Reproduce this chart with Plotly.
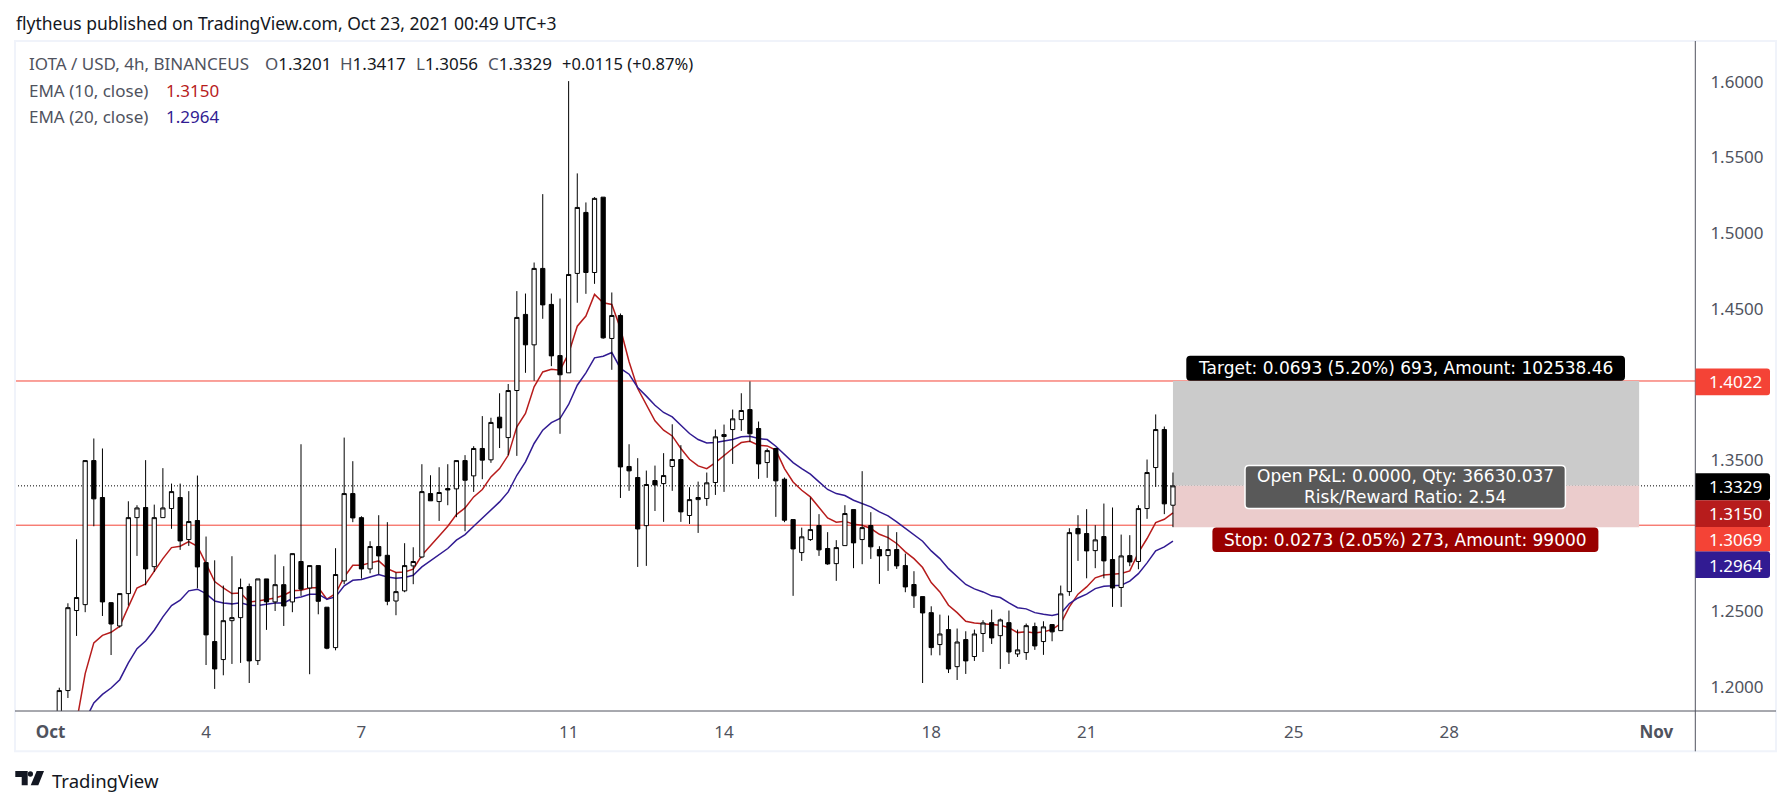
import datetime

import plotly.graph_objects as go

FONT = "Noto Sans"
TOOL_FONT = "DejaVu Sans"
AXIS_COLOR = "#50535e"
TEXT_COLOR = "#131722"
LINE_RED = "#f44336"
EMA10_COLOR = "#b71c1c"
EMA20_COLOR = "#311b92"

START = datetime.datetime(2021, 10, 1)
BAR = datetime.timedelta(hours=4)
FIRST_BAR = 1

opens = [
    1.1750, 1.1976, 1.2505, 1.2544, 1.3496, 1.3252, 1.2557, 1.2403, 1.2617, 1.3119,
    1.3186, 1.2795, 1.3119, 1.3179, 1.3252, 1.2974, 1.3100, 1.2822, 1.2300, 1.2181,
    1.2438, 1.2458, 1.2663, 1.2174, 1.2714, 1.2562, 1.2676, 1.2562, 1.2829, 1.2654,
    1.2802, 1.2527, 1.2260, 1.2701, 1.3278, 1.3119, 1.2780, 1.2928, 1.2870, 1.2568,
    1.2635, 1.2800, 1.2859, 1.3278, 1.3225, 1.3311, 1.3309, 1.3496, 1.3395, 1.3576,
    1.3501, 1.3783, 1.3648, 1.3959, 1.4462, 1.4261, 1.4766, 1.4528, 1.4190, 1.4076,
    1.4733, 1.5136, 1.4739, 1.5237, 1.4303, 1.4455, 1.3457, 1.3384, 1.3066, 1.3364,
    1.3344, 1.3457, 1.3503, 1.3133, 1.3238, 1.3245, 1.3351, 1.3655, 1.3701, 1.3767,
    1.3833, 1.3708, 1.3483, 1.3576, 1.3373, 1.3106, 1.2888, 1.2974, 1.3067, 1.2915,
    1.2815, 1.2934, 1.3172, 1.2974, 1.3067, 1.2908, 1.2868, 1.2908, 1.2802, 1.2677,
    1.2597, 1.2491, 1.2280, 1.2379, 1.2134, 1.2313, 1.2201, 1.2353, 1.2425, 1.2339,
    1.2425, 1.2218, 1.2227, 1.2399, 1.2300, 1.2412, 1.2372, 1.2630, 1.3047, 1.3014,
    1.2901, 1.2994, 1.2842, 1.2657, 1.2868, 1.2829, 1.3179, 1.3450, 1.3701, 1.3201,
]
highs = [
    1.1995, 1.2553, 1.2976, 1.3497, 1.3642, 1.3576, 1.2560, 1.2617, 1.3227, 1.3201,
    1.3499, 1.3205, 1.3446, 1.3344, 1.3344, 1.3294, 1.3397, 1.2994, 1.2837, 1.2670,
    1.2864, 1.2716, 1.2683, 1.2714, 1.2714, 1.2875, 1.2798, 1.2881, 1.3604, 1.2802,
    1.2802, 1.2527, 1.2917, 1.3648, 1.3492, 1.3128, 1.2963, 1.3135, 1.3089, 1.2756,
    1.2950, 1.2923, 1.3472, 1.3399, 1.3452, 1.3472, 1.3496, 1.3532, 1.3591, 1.3790,
    1.3779, 1.3941, 1.4002, 1.4616, 1.4600, 1.4805, 1.5257, 1.4600, 1.4567, 1.6004,
    1.5394, 1.5202, 1.5237, 1.5237, 1.4607, 1.4468, 1.3604, 1.3512, 1.3430, 1.3463,
    1.3545, 1.3736, 1.3598, 1.3320, 1.3357, 1.3417, 1.3701, 1.3734, 1.3833, 1.3941,
    1.4019, 1.3754, 1.3576, 1.3580, 1.3384, 1.3106, 1.3053, 1.3252, 1.3142, 1.3023,
    1.2970, 1.3201, 1.3172, 1.3426, 1.3155, 1.2930, 1.3067, 1.3023, 1.2881, 1.2765,
    1.2597, 1.2533, 1.2478, 1.2472, 1.2386, 1.2368, 1.2379, 1.2441, 1.2511, 1.2452,
    1.2505, 1.2379, 1.2419, 1.2425, 1.2434, 1.2416, 1.2670, 1.3049, 1.3135, 1.3175,
    1.3069, 1.3212, 1.3186, 1.3007, 1.3003, 1.3201, 1.3503, 1.3801, 1.3721, 1.3417,
]
lows = [
    1.1720, 1.1927, 1.2337, 1.2494, 1.3062, 1.2469, 1.2211, 1.2392, 1.2538, 1.2866,
    1.2672, 1.2760, 1.3119, 1.3045, 1.2906, 1.2932, 1.2652, 1.2145, 1.1987, 1.2077,
    1.2152, 1.2159, 1.2026, 1.2145, 1.2377, 1.2502, 1.2403, 1.2494, 1.2602, 1.2084,
    1.2480, 1.2249, 1.2242, 1.2679, 1.3089, 1.2716, 1.2751, 1.2745, 1.2540, 1.2474,
    1.2626, 1.2679, 1.2851, 1.3230, 1.3097, 1.3201, 1.3122, 1.3029, 1.3289, 1.3373,
    1.3481, 1.3579, 1.3532, 1.3527, 1.4076, 1.4023, 1.4433, 1.4120, 1.3673, 1.4076,
    1.4539, 1.4598, 1.4664, 1.4301, 1.4096, 1.3249, 1.3296, 1.2793, 1.2800, 1.3163,
    1.3091, 1.3296, 1.3091, 1.3077, 1.3018, 1.3197, 1.3269, 1.3289, 1.3474, 1.3692,
    1.3620, 1.3375, 1.3382, 1.3124, 1.3089, 1.2602, 1.2833, 1.2965, 1.2866, 1.2807,
    1.2701, 1.2934, 1.2785, 1.2811, 1.2846, 1.2681, 1.2767, 1.2780, 1.2626, 1.2522,
    1.2026, 1.2209, 1.2209, 1.2092, 1.2046, 1.2086, 1.2172, 1.2231, 1.2284, 1.2119,
    1.2152, 1.2198, 1.2179, 1.2245, 1.2212, 1.2302, 1.2372, 1.2602, 1.2833, 1.2718,
    1.2785, 1.2718, 1.2529, 1.2529, 1.2798, 1.2778, 1.3111, 1.3322, 1.3142, 1.3056,
]
closes = [
    1.1976, 1.2524, 1.2591, 1.3496, 1.3243, 1.2562, 1.2416, 1.2617, 1.3119, 1.3183,
    1.2780, 1.3119, 1.3183, 1.3291, 1.2965, 1.3093, 1.2793, 1.2344, 1.2119, 1.2438,
    1.2458, 1.2657, 1.2172, 1.2714, 1.2562, 1.2676, 1.2535, 1.2881, 1.2646, 1.2802,
    1.2566, 1.2256, 1.2743, 1.3278, 1.3117, 1.2780, 1.2928, 1.2866, 1.2566, 1.2630,
    1.2802, 1.2829, 1.3291, 1.3230, 1.3285, 1.3302, 1.3496, 1.3366, 1.3576, 1.3499,
    1.3748, 1.3712, 1.3959, 1.4442, 1.4261, 1.4766, 1.4525, 1.4188, 1.4063, 1.4726,
    1.5169, 1.4739, 1.5229, 1.4307, 1.4455, 1.3454, 1.3428, 1.3044, 1.3338, 1.3335,
    1.3397, 1.3503, 1.3157, 1.3238, 1.3252, 1.3349, 1.3653, 1.3668, 1.3772, 1.3827,
    1.3673, 1.3474, 1.3562, 1.3362, 1.3102, 1.2912, 1.2992, 1.3040, 1.2906, 1.2813,
    1.2921, 1.3146, 1.2952, 1.3053, 1.2926, 1.2866, 1.2908, 1.2800, 1.2661, 1.2602,
    1.2489, 1.2260, 1.2350, 1.2119, 1.2297, 1.2172, 1.2350, 1.2423, 1.2324, 1.2443,
    1.2231, 1.2245, 1.2405, 1.2271, 1.2397, 1.2364, 1.2615, 1.3020, 1.3012, 1.2899,
    1.2972, 1.2833, 1.2654, 1.2866, 1.2826, 1.3179, 1.3417, 1.3701, 1.3210, 1.3329,
]
ema10 = [
    None, None, 1.1768, 1.2088, 1.2291, 1.2341, 1.2361, 1.2401, 1.2529, 1.2654,
    1.2681, 1.2767, 1.2848, 1.2921, 1.2930, 1.2961, 1.2930, 1.2815, 1.2696, 1.2654,
    1.2617, 1.2621, 1.2562, 1.2568, 1.2577, 1.2588, 1.2606, 1.2635, 1.2639, 1.2654,
    1.2657, 1.2580, 1.2617, 1.2727, 1.2804, 1.2804, 1.2820, 1.2833, 1.2782, 1.2756,
    1.2760, 1.2778, 1.2870, 1.2937, 1.2998, 1.3062, 1.3139, 1.3183, 1.3256, 1.3305,
    1.3388, 1.3443, 1.3531, 1.3719, 1.3807, 1.3983, 1.4082, 1.4100, 1.4093, 1.4204,
    1.4384, 1.4451, 1.4594, 1.4539, 1.4528, 1.4369, 1.4149, 1.3972, 1.3862, 1.3759,
    1.3697, 1.3659, 1.3576, 1.3505, 1.3461, 1.3443, 1.3483, 1.3531, 1.3576, 1.3615,
    1.3624, 1.3598, 1.3593, 1.3565, 1.3443, 1.3355, 1.3300, 1.3256, 1.3190, 1.3117,
    1.3089, 1.3095, 1.3076, 1.3069, 1.3047, 1.3009, 1.2987, 1.2948, 1.2893, 1.2848,
    1.2789, 1.2690, 1.2628, 1.2540, 1.2491, 1.2434, 1.2423, 1.2419, 1.2412, 1.2408,
    1.2392, 1.2359, 1.2364, 1.2357, 1.2364, 1.2379, 1.2419, 1.2529, 1.2613, 1.2661,
    1.2721, 1.2740, 1.2745, 1.2750, 1.2767, 1.2888, 1.2981, 1.3086, 1.3108, 1.3150,
]
ema20 = [
    None, None, None, 1.1780, 1.1894, 1.1951, 1.1993, 1.2048, 1.2159, 1.2253,
    1.2304, 1.2375, 1.2463, 1.2538, 1.2573, 1.2635, 1.2646, 1.2617, 1.2568, 1.2555,
    1.2549, 1.2557, 1.2540, 1.2538, 1.2547, 1.2555, 1.2555, 1.2584, 1.2595, 1.2613,
    1.2613, 1.2580, 1.2595, 1.2668, 1.2705, 1.2710, 1.2727, 1.2743, 1.2727, 1.2718,
    1.2723, 1.2738, 1.2793, 1.2833, 1.2870, 1.2915, 1.2970, 1.3007, 1.3062, 1.3117,
    1.3172, 1.3223, 1.3289, 1.3399, 1.3487, 1.3609, 1.3697, 1.3747, 1.3774, 1.3867,
    1.3994, 1.4076, 1.4175, 1.4186, 1.4210, 1.4105, 1.4067, 1.3979, 1.3922, 1.3862,
    1.3814, 1.3785, 1.3730, 1.3675, 1.3635, 1.3613, 1.3615, 1.3624, 1.3635, 1.3653,
    1.3657, 1.3642, 1.3635, 1.3591, 1.3536, 1.3483, 1.3443, 1.3406, 1.3355, 1.3305,
    1.3278, 1.3265, 1.3234, 1.3212, 1.3190, 1.3157, 1.3131, 1.3091, 1.3047, 1.3003,
    1.2963, 1.2899, 1.2848, 1.2782, 1.2732, 1.2677, 1.2648, 1.2628, 1.2602, 1.2591,
    1.2555, 1.2524, 1.2516, 1.2491, 1.2480, 1.2472, 1.2485, 1.2551, 1.2588, 1.2613,
    1.2650, 1.2666, 1.2668, 1.2672, 1.2699, 1.2749, 1.2820, 1.2899, 1.2926, 1.2964,
]

target_price = 1.4022
entry_price = 1.3329
stop_price = 1.3056
support_price = 1.3069
tool_end_bar = 184

price_ticks = [1.20, 1.25, 1.35, 1.45, 1.50, 1.55, 1.60]
date_tick_bars = [0, 18, 36, 60, 78, 102, 120, 144, 162, 186]
date_tick_text = ["<b>Oct</b>", "4", "7", "11", "14", "18", "21", "25", "28", "<b>Nov</b>"]

# pane in page pixels
PANE_L, PANE_R, PANE_T, PANE_B = 15, 1695, 41, 710.7
WIDTH, HEIGHT = 1791, 805
X_LOW, X_HIGH = -4.13, 190.47
Y_LOW, Y_HIGH = 1.1841, 1.6269


def bar_date(i):
    return START + BAR * i


def px(x):
    return (x - PANE_L) / (PANE_R - PANE_L)


def py(y):
    return (PANE_B - y) / (PANE_B - PANE_T)


def box_path(x0, y0, x1, y1, r=4, left=True, right=True):
    rl = r if left else 0
    rr = r if right else 0
    pts = [
        f"M {px(x0 + rl)} {py(y0)}",
        f"L {px(x1 - rr)} {py(y0)}",
        f"Q {px(x1)} {py(y0)} {px(x1)} {py(y0 + rr)}",
        f"L {px(x1)} {py(y1 - rr)}",
        f"Q {px(x1)} {py(y1)} {px(x1 - rr)} {py(y1)}",
        f"L {px(x0 + rl)} {py(y1)}",
        f"Q {px(x0)} {py(y1)} {px(x0)} {py(y1 - rl)}",
        f"L {px(x0)} {py(y0 + rl)}",
        f"Q {px(x0)} {py(y0)} {px(x0 + rl)} {py(y0)} Z",
    ]
    return " ".join(pts)


def box(x0, y0, x1, y1, fill, border=None, r=4, left=True):
    return dict(type="path", xref="paper", yref="paper", path=box_path(x0, y0, x1, y1, r, left),
                fillcolor=fill, line=dict(color=border or fill, width=1.5 if border else 0), layer="above")


def page_line(x0, y0, x1, y1, color, width=1):
    return dict(type="line", xref="paper", yref="paper", x0=px(x0), x1=px(x1), y0=py(y0), y1=py(y1),
                line=dict(color=color, width=width), layer="above")


def poly(points, fill):
    path = "M " + " L ".join(f"{px(x)} {py(y)}" for x, y in points) + " Z"
    return dict(type="path", xref="paper", yref="paper", path=path, fillcolor=fill, line=dict(width=0), layer="above")


def label(x, y, text, color=TEXT_COLOR, size=17, anchor="left", family=FONT):
    return dict(xref="paper", yref="paper", x=px(x), y=py(y), text=text, showarrow=False,
                xanchor=anchor, yanchor="middle", align="center",
                font=dict(family=family, size=size, color=color), borderpad=0)


dates = [bar_date(i + FIRST_BAR) for i in range(len(closes))]

fig = go.Figure()
fig.add_trace(go.Scatter(x=dates, y=ema10, mode="lines", line=dict(color=EMA10_COLOR, width=1.5),
                         connectgaps=False, zorder=0, showlegend=False))
fig.add_trace(go.Scatter(x=dates, y=ema20, mode="lines", line=dict(color=EMA20_COLOR, width=1.5),
                         connectgaps=False, zorder=0, showlegend=False))
fig.add_trace(go.Candlestick(x=dates, open=opens, high=highs, low=lows, close=closes,
                             increasing=dict(line=dict(color="#000000", width=1), fillcolor="#ffffff"),
                             decreasing=dict(line=dict(color="#000000", width=1), fillcolor="#000000"),
                             whiskerwidth=0, zorder=1, showlegend=False))

shapes = [
    # position tool areas
    dict(type="rect", xref="x", yref="y", x0=dates[-1], x1=bar_date(tool_end_bar), y0=entry_price, y1=target_price,
         fillcolor="#cbcbcb", line=dict(width=0), layer="below"),
    dict(type="rect", xref="x", yref="y", x0=dates[-1], x1=bar_date(tool_end_bar), y0=stop_price, y1=entry_price,
         fillcolor="#ebcccc", line=dict(width=0), layer="below"),
    # horizontal levels
    dict(type="line", xref="paper", yref="y", x0=0, x1=1, y0=target_price, y1=target_price,
         line=dict(color=LINE_RED, width=1), layer="below"),
    dict(type="line", xref="paper", yref="y", x0=0, x1=1, y0=support_price, y1=support_price,
         line=dict(color=LINE_RED, width=1), layer="below"),
    dict(type="line", xref="paper", yref="y", x0=0, x1=1, y0=entry_price, y1=entry_price,
         line=dict(color="#000000", width=1, dash="1px,2px"), layer="below"),
    # outer frame and axis extents
    dict(type="rect", xref="paper", yref="paper", x0=px(15), x1=px(1776), y0=py(751), y1=py(41),
         line=dict(color="#f0f3fa", width=2), layer="below"),
    page_line(1695.3, 41, 1695.3, 751, AXIS_COLOR),
    page_line(15, 710.7, 1776, 710.7, AXIS_COLOR),
    # tool labels
    box(1186.3, 355.7, 1625, 380.7, "#000000"),
    box(1245, 465.3, 1565.4, 508.3, "#595959", border="#ffffff"),
    box(1212.4, 527.3, 1598.4, 551.7, "#990000"),
    # price tags
    box(1695.5, 368.3, 1770, 395, LINE_RED, r=3, left=False),
    box(1695.5, 473, 1770, 500, "#000000", r=3, left=False),
    box(1695.5, 551, 1770, 577.7, EMA20_COLOR, r=3, left=False),
    box(1695.5, 526.7, 1770, 551, LINE_RED, r=0, left=False),
    box(1695.5, 500, 1770, 526.7, EMA10_COLOR, r=3, left=False),
    # logo
    poly([(15.3, 770.7), (27.7, 770.7), (27.7, 785), (21.7, 785), (21.7, 776.7), (15.3, 776.7)], TEXT_COLOR),
    poly([(36.7, 770.7), (44, 770.7), (38.3, 785), (30.7, 785)], TEXT_COLOR),
    dict(type="circle", xref="paper", yref="paper", x0=px(27.8), x1=px(33), y0=py(776.5), y1=py(771),
         fillcolor=TEXT_COLOR, line=dict(width=0), layer="above"),
]

annotations = [
    label(15, 23, "flytheus published on TradingView.com, Oct 23, 2021 00:49 UTC+3", size=17.5),
    label(27.5, 63, "IOTA / USD, 4h, BINANCEUS", AXIS_COLOR),
    label(264, 63, f"<span style='color:{AXIS_COLOR}'>O</span>1.3201"),
    label(339, 63, f"<span style='color:{AXIS_COLOR}'>H</span>1.3417"),
    label(414.6, 63, f"<span style='color:{AXIS_COLOR}'>L</span>1.3056"),
    label(486.7, 63, f"<span style='color:{AXIS_COLOR}'>C</span>1.3329"),
    label(561, 63, "+0.0115 (+0.87%)", size=16.5),
    label(27.5, 90.5, "EMA (10, close)", AXIS_COLOR),
    label(165.3, 90.5, "1.3150", EMA10_COLOR),
    label(27.5, 116, "EMA (20, close)", AXIS_COLOR),
    label(165.3, 116, "1.2964", EMA20_COLOR),
    label(1405.7, 368, "Target: 0.0693 (5.20%) 693, Amount: 102538.46", "#ffffff", 17, "center", TOOL_FONT),
    label(1405.2, 476.2, "Open P&L: 0.0000, Qty: 36630.037", "#ffffff", 17, "center", TOOL_FONT),
    label(1405.2, 497.2, "Risk/Reward Ratio: 2.54", "#ffffff", 17, "center", TOOL_FONT),
    label(1405.4, 539.3, "Stop: 0.0273 (2.05%) 273, Amount: 99000", "#ffffff", 17, "center", TOOL_FONT),
    label(1735.7, 381.7, "1.4022", "#ffffff", 17, "center"),
    label(1735.7, 486.3, "1.3329", "#ffffff", 17, "center"),
    label(1735.7, 513.3, "1.3150", "#ffffff", 17, "center"),
    label(1735.7, 539, "1.3069", "#ffffff", 17, "center"),
    label(1735.7, 565, "1.2964", "#ffffff", 17, "center"),
    label(50.7, 780, "TradingView", TEXT_COLOR, 18.5),
]

fig.update_layout(
    width=WIDTH,
    height=HEIGHT,
    margin=dict(l=PANE_L, r=WIDTH - PANE_R, t=PANE_T, b=HEIGHT - PANE_B, pad=0),
    paper_bgcolor="#ffffff",
    plot_bgcolor="#ffffff",
    font=dict(family=FONT, size=17, color=AXIS_COLOR),
    showlegend=False,
    shapes=shapes,
    annotations=annotations,
    boxgap=0.3,
    xaxis=dict(
        type="date",
        range=[bar_date(X_LOW), bar_date(X_HIGH)],
        rangeslider=dict(visible=False),
        tickmode="array",
        tickvals=[bar_date(i) for i in date_tick_bars],
        ticktext=date_tick_text,
        tickfont=dict(family=FONT, size=17, color=AXIS_COLOR),
        ticks="outside",
        ticklen=6,
        tickcolor="rgba(0,0,0,0)",
        showgrid=False,
        zeroline=False,
        showline=False,
    ),
    yaxis=dict(
        side="right",
        range=[Y_LOW, Y_HIGH],
        tickmode="array",
        tickvals=price_ticks,
        ticktext=[f"{p:.4f}" for p in price_ticks],
        tickfont=dict(family=FONT, size=17, color=AXIS_COLOR),
        ticks="outside",
        ticklen=11,
        tickcolor="rgba(0,0,0,0)",
        showgrid=False,
        zeroline=False,
        showline=False,
    ),
)

fig.write_html("out.html", config=dict(displayModeBar=False),
               post_script="document.body.style.margin='0';")
